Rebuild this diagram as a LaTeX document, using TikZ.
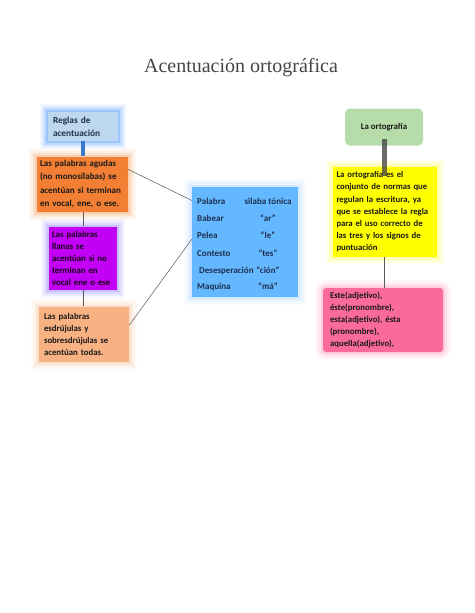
\documentclass[tikz,border=0pt]{standalone}
\usepackage{fontspec}
\setmainfont{Carlito}
\newfontfamily\titlefont{Liberation Serif}
\usetikzlibrary{positioning,calc}
\definecolor{reglasfill}{HTML}{BDD7EE}
\definecolor{reglasglow}{HTML}{4A96FF}
\definecolor{agudasfill}{HTML}{F27F33}
\definecolor{agudasglow}{HTML}{F9A66A}
\definecolor{llanasfill}{HTML}{C200F5}
\definecolor{llanasglow}{HTML}{9C8CFF}
\definecolor{esdrfill}{HTML}{F8B183}
\definecolor{esdrglow}{HTML}{FAC9A4}
\definecolor{tablafill}{HTML}{63B8FF}
\definecolor{tablaglow}{HTML}{B4DAFF}
\definecolor{ortofill}{HTML}{B6DCA9}
\definecolor{defifill}{HTML}{FFFF00}
\definecolor{defiglow}{HTML}{FFFF66}
\definecolor{ejemfill}{HTML}{FA6A9A}
\definecolor{ejemglow}{HTML}{FFA8C6}
\definecolor{navytext}{HTML}{1F2F4F}
\definecolor{titlegray}{HTML}{454545}

\begin{document}
\begin{tikzpicture}[
    x=1pt, y=-1pt,
    glow/.style={
      preaction={draw=#1, line width=16pt, opacity=.08},
      preaction={draw=#1, line width=12pt, opacity=.12},
      preaction={draw=#1, line width=8pt, opacity=.18},
      preaction={draw=#1, line width=4pt, opacity=.3}
    },
    concept/.style={
      rectangle, fill=#1, inner sep=0pt,
      align=left, font=\fontsize{8.8}{12}\selectfont\bfseries,
      text=black!90
    },
    link/.style={draw=gray!70!black, line width=0.5pt},
    tabrow/.style={font=\fontsize{9}{11}\selectfont\bfseries, text=navytext, inner sep=0pt}
  ]
  \useasboundingbox[fill=white] (0,0) rectangle (474,613);

  %% ===== Title =====
  \node[font=\titlefont\fontsize{20}{24}\selectfont, text=titlegray]
    (title) at (241,68) {Acentuación ortográfica};

  %% ===== Left column =====
  \node[concept=reglasfill, glow=reglasglow, text=navytext,
        minimum width=70pt, minimum height=29pt, text width=60pt,
        font=\fontsize{9.3}{13}\selectfont\bfseries]
    (reglas) at (83,126.5) {Reglas de\\acentuación};

  \node[concept=agudasfill, glow=agudasglow,
        minimum width=91pt, minimum height=55pt, text width=84pt,
        font=\fontsize{9}{13.5}\selectfont\bfseries]
    (agudas) at (82,184) {Las palabras agudas\\(no monosílabas) se\\acentúan si terminan\\en vocal, ene, o ese.};

  \node[concept=llanasfill, glow=llanasglow, text=black!85!violet,
        minimum width=68pt, minimum height=63pt, text width=62pt]
    (llanas) at (83,258) {Las palabras\\llanas se\\acentúan si no\\terminan en\\vocal ene o ese};

  \node[concept=esdrfill, glow=esdrglow,
        minimum width=90pt, minimum height=55pt, text width=80pt]
    (esdrujulas) at (84,334) {Las palabras\\esdrújulas y\\sobresdrújulas se\\acentúan todas.};

  %% ===== Table of examples =====
  \node[concept=tablafill, glow=tablaglow,
        minimum width=106pt, minimum height=110pt]
    (tabla) at (245,242) {};

  \foreach \n/\w/\s/\y in {0/Palabra/silaba tónica/204,
                           1/Babear/“ar”/221,
                           2/Pelea/“le”/238,
                           3/Contesto/“tes”/256,
                           4/\ Desesperación/“ción”/273,
                           5/Maquina/“má”/289}{
    \node[tabrow, anchor=base west] (pal\n) at (197,\y) {\w};
    \node[tabrow, anchor=base] (sil\n) at (268,\y) {\s};
  }

  %% ===== Right column =====
  \node[concept=ortofill, rounded corners=5pt, align=center,
        minimum width=78pt, minimum height=37pt]
    (ortografia) at (384,127) {La ortografía};

  \node[concept=defifill, glow=defiglow,
        minimum width=104pt, minimum height=90pt, text width=97pt,
        font=\fontsize{8.7}{12.2}\selectfont\bfseries]
    (definicion) at (385,212) {La ortografía es el\\conjunto de normas que\\regulan la escritura, ya\\que se establece la regla\\para el uso correcto de\\las tres y los signos de\\puntuación};

  \node[concept=ejemfill, glow=ejemglow, rounded corners=3pt,
        minimum width=120pt, minimum height=64pt, text width=106pt]
    (ejemplos) at (383,320) {Este(adjetivo),\\éste(pronombre),\\esta(adjetivo), ésta\\(pronombre),\\aquella(adjetivo),};

  %% ===== Connectors =====
  \draw[line width=3.5pt, color=reglasglow!80!black] (reglas.south) -- (reglas.south |- agudas.north);
  \draw[link] (llanas.north |- agudas.south) -- (llanas.north);
  \draw[link] (esdrujulas.north -| llanas.north) -- (llanas.south);
  \draw[link] (agudas.18) -- (tabla.142);
  \draw[link] (esdrujulas.11) -- (tabla.177);
  \draw[line width=5pt, color=gray!55!black, opacity=.8,
        shorten <=-7pt, shorten >=-9pt] (ortografia.south) -- (ortografia.south |- definicion.north);
  \draw[link] (definicion.south -| ortografia.south) -- (ortografia.south |- ejemplos.north);
\end{tikzpicture}
\end{document}
